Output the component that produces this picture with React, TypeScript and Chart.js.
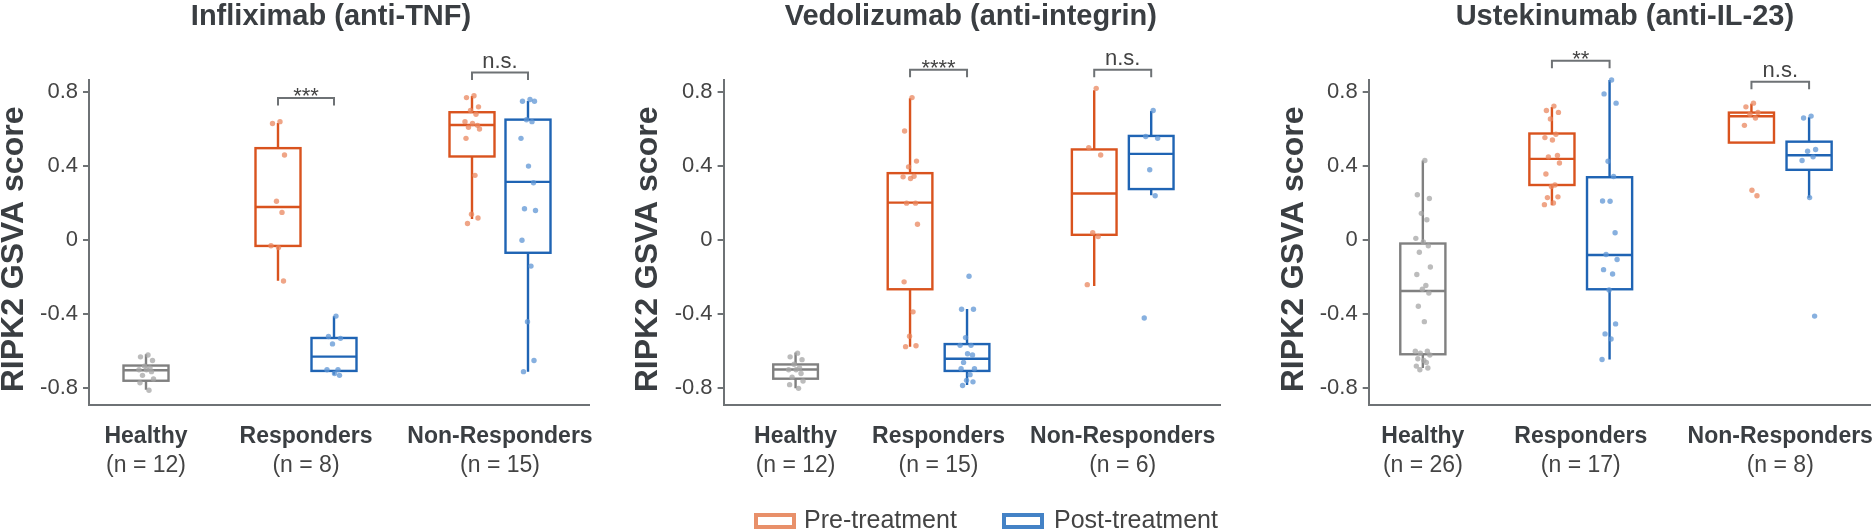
import React, { useEffect, useRef } from "react";
import { Chart, registerables } from "chart.js";

Chart.register(...registerables);

// ---------------- DATA ----------------
const GROUP_NAMES = ["Healthy", "Responders", "Non-Responders"];
const PANEL_TITLES = ["Infliximab (anti-TNF)", "Vedolizumab (anti-integrin)", "Ustekinumab (anti-IL-23)"];
const IFX_N_LABELS = ["(n = 12)", "(n = 8)", "(n = 15)"];
const VDZ_N_LABELS = ["(n = 12)", "(n = 15)", "(n = 6)"];
const UST_N_LABELS = ["(n = 26)", "(n = 17)", "(n = 8)"];
const Y_TICKS = [-0.8, -0.4, 0, 0.4, 0.8];
const Y_AXIS_TITLE = "RIPK2 GSVA score";
const LEGEND_LABELS = ["Pre-treatment", "Post-treatment"];

// box stats: [lower whisker, Q1, median, Q3, upper whisker]
const IFX_BOX_HEALTHY = [-0.808, -0.759, -0.702, -0.677, -0.616];
const IFX_BOX_RESP_PRE = [-0.219, -0.031, 0.179, 0.497, 0.633];
const IFX_BOX_RESP_POST = [-0.726, -0.706, -0.629, -0.528, -0.411];
const IFX_BOX_NR_PRE = [0.115, 0.452, 0.622, 0.691, 0.779];
const IFX_BOX_NR_POST = [-0.711, -0.068, 0.315, 0.651, 0.752];

const IFX_PTS_HEALTHY = [-0.62, -0.63, -0.65, -0.68, -0.69, -0.7, -0.7, -0.71, -0.73, -0.75, -0.77, -0.81];
const IFX_PTS_RESP_PRE = [0.64, 0.63, 0.46, 0.21, 0.15, -0.03, -0.04, -0.22];
const IFX_PTS_RESP_POST = [-0.41, -0.52, -0.53, -0.56, -0.7, -0.7, -0.72, -0.73];
const IFX_PTS_NR_PRE = [0.78, 0.77, 0.72, 0.7, 0.68, 0.64, 0.63, 0.62, 0.61, 0.6, 0.55, 0.35, 0.14, 0.12, 0.09];
const IFX_PTS_NR_POST = [0.76, 0.75, 0.75, 0.65, 0.64, 0.55, 0.4, 0.31, 0.17, 0.16, 0.0, -0.14, -0.44, -0.65, -0.71];

const VDZ_BOX_HEALTHY = [-0.8, -0.748, -0.698, -0.671, -0.607];
const VDZ_BOX_RESP_PRE = [-0.575, -0.265, 0.203, 0.362, 0.766];
const VDZ_BOX_RESP_POST = [-0.782, -0.706, -0.64, -0.561, -0.371];
const VDZ_BOX_NR_PRE = [-0.247, 0.029, 0.252, 0.49, 0.81];
const VDZ_BOX_NR_POST = [0.243, 0.276, 0.466, 0.563, 0.697];

const VDZ_PTS_HEALTHY = [-0.61, -0.63, -0.645, -0.67, -0.69, -0.7, -0.7, -0.72, -0.74, -0.76, -0.78, -0.8];
const VDZ_PTS_RESP_PRE = [0.77, 0.59, 0.427, 0.396, 0.345, 0.342, 0.333, 0.2, 0.2, 0.086, -0.225, -0.387, -0.519, -0.57, -0.575];
const VDZ_PTS_RESP_POST = [-0.195, -0.373, -0.373, -0.526, -0.568, -0.568, -0.613, -0.62, -0.66, -0.694, -0.694, -0.726, -0.757, -0.765, -0.785];
const VDZ_PTS_NR_PRE = [0.82, 0.5, 0.46, 0.04, 0.02, -0.24];
const VDZ_PTS_NR_POST = [0.7, 0.56, 0.55, 0.38, 0.24, -0.42];

const UST_BOX_HEALTHY = [-0.69, -0.616, -0.274, -0.018, 0.43];
const UST_BOX_RESP_PRE = [0.188, 0.298, 0.439, 0.576, 0.719];
const UST_BOX_RESP_POST = [-0.644, -0.265, -0.08, 0.34, 0.865];
const UST_BOX_NR_PRE = [0.527, 0.527, 0.669, 0.689, 0.737];
const UST_BOX_NR_POST = [0.229, 0.38, 0.459, 0.532, 0.664];

const UST_PTS_HEALTHY = [0.43, 0.245, 0.225, 0.145, 0.11, 0.01, -0.01, -0.03, -0.065, -0.145, -0.185, -0.245, -0.265, -0.285, -0.357, -0.44, -0.6, -0.6, -0.61, -0.62, -0.64, -0.65, -0.66, -0.68, -0.69, -0.7];
const UST_PTS_RESP_PRE = [0.724, 0.7, 0.69, 0.655, 0.572, 0.554, 0.541, 0.457, 0.45, 0.417, 0.357, 0.298, 0.29, 0.234, 0.23, 0.201, 0.192];
const UST_PTS_RESP_POST = [0.865, 0.79, 0.74, 0.426, 0.344, 0.212, 0.21, 0.04, -0.077, -0.104, -0.159, -0.183, -0.269, -0.452, -0.506, -0.534, -0.644];
const UST_PTS_NR_PRE = [0.74, 0.72, 0.69, 0.68, 0.66, 0.62, 0.27, 0.24];
const UST_PTS_NR_POST = [0.67, 0.66, 0.49, 0.48, 0.45, 0.43, 0.23, -0.41];

// significance brackets (Responders, Non-Responders)
const IFX_SIG_LABELS = ["***", "n.s."];
const IFX_SIG_Y = [0.768, 0.905];
const VDZ_SIG_LABELS = ["****", "n.s."];
const VDZ_SIG_Y = [0.92, 0.92];
const UST_SIG_LABELS = ["**", "n.s."];
const UST_SIG_Y = [0.969, 0.856];

// ---------------- STYLE / LAYOUT ----------------
const FONT = '"Liberation Sans", Arial, Helvetica, sans-serif';
const W = 1875;
const H = 531;
const Y_MIN = -0.89;
const Y_MAX = 0.865;
const PLOT_TOP = 80;
const PLOT_BOTTOM = 405;
const Y_SCALE_W = 60;
const BOX_HALF = 0.45;
const JITTER = [0.04, -0.11, 0.13, -0.03, 0.08, -0.14, 0.01, 0.11, -0.07, 0.15, -0.12, 0.06, -0.01, 0.12, -0.09, 0.03, -0.15, 0.09, -0.05, 0.14, -0.1, 0.02, 0.07, -0.13, 0.1, -0.06];

const COL_PRE = "#D9531E";
const COL_POST = "#1F64B4";
const COL_HEALTHY = "#808080";
const PT_PRE = "rgba(234,135,95,0.75)";
const PT_POST = "rgba(95,150,212,0.75)";
const PT_HEALTHY = "rgba(165,165,165,0.75)";
const LEGEND_PRE = "#E8906A";
const LEGEND_POST = "#4482C6";
const AXIS_COL = "#6E7275";
const TEXT_DARK = "#3A3E42";
const TEXT_MID = "#444444";

const LAYOUT = [
  { left: 0, width: 625, axisLeft: 89, axisRight: 589, centers: [1.14, 4.34, 8.22], dodge: 0.56, titleX: 4.84 },
  { left: 625, width: 640, axisLeft: 723.6, axisRight: 1220, centers: [1.45, 4.33, 8.04], dodge: 0.574, titleX: 4.98 },
  { left: 1265, width: 610, axisLeft: 1368.7, axisRight: 1870, centers: [1.08, 4.23, 8.21], dodge: 0.575, titleX: 5.11 },
];

type Kind = "healthy" | "pre" | "post";
type GroupSpec = { kind: Kind; group: number; box: number[]; pts: number[] };
type PanelSpec = { title: string; nLabels: string[]; groups: GroupSpec[]; sigLabels: string[]; sigY: number[] };

const mkGroups = (bh: number[], ph: number[], b1: number[], p1: number[], b2: number[], p2: number[], b3: number[], p3: number[], b4: number[], p4: number[]): GroupSpec[] => [
  { kind: "healthy", group: 0, box: bh, pts: ph },
  { kind: "pre", group: 1, box: b1, pts: p1 },
  { kind: "post", group: 1, box: b2, pts: p2 },
  { kind: "pre", group: 2, box: b3, pts: p3 },
  { kind: "post", group: 2, box: b4, pts: p4 },
];

const PANELS: PanelSpec[] = [
  {
    title: PANEL_TITLES[0],
    nLabels: IFX_N_LABELS,
    groups: mkGroups(IFX_BOX_HEALTHY, IFX_PTS_HEALTHY, IFX_BOX_RESP_PRE, IFX_PTS_RESP_PRE, IFX_BOX_RESP_POST, IFX_PTS_RESP_POST, IFX_BOX_NR_PRE, IFX_PTS_NR_PRE, IFX_BOX_NR_POST, IFX_PTS_NR_POST),
    sigLabels: IFX_SIG_LABELS,
    sigY: IFX_SIG_Y,
  },
  {
    title: PANEL_TITLES[1],
    nLabels: VDZ_N_LABELS,
    groups: mkGroups(VDZ_BOX_HEALTHY, VDZ_PTS_HEALTHY, VDZ_BOX_RESP_PRE, VDZ_PTS_RESP_PRE, VDZ_BOX_RESP_POST, VDZ_PTS_RESP_POST, VDZ_BOX_NR_PRE, VDZ_PTS_NR_PRE, VDZ_BOX_NR_POST, VDZ_PTS_NR_POST),
    sigLabels: VDZ_SIG_LABELS,
    sigY: VDZ_SIG_Y,
  },
  {
    title: PANEL_TITLES[2],
    nLabels: UST_N_LABELS,
    groups: mkGroups(UST_BOX_HEALTHY, UST_PTS_HEALTHY, UST_BOX_RESP_PRE, UST_PTS_RESP_PRE, UST_BOX_RESP_POST, UST_PTS_RESP_POST, UST_BOX_NR_PRE, UST_PTS_NR_PRE, UST_BOX_NR_POST, UST_PTS_NR_POST),
    sigLabels: UST_SIG_LABELS,
    sigY: UST_SIG_Y,
  },
];

function groupX(lay: (typeof LAYOUT)[number], g: GroupSpec): number {
  const c = lay.centers[g.group];
  if (g.kind === "pre") return c - lay.dodge;
  if (g.kind === "post") return c + lay.dodge;
  return c;
}

function strokeCol(k: Kind) {
  return k === "pre" ? COL_PRE : k === "post" ? COL_POST : COL_HEALTHY;
}
function pointCol(k: Kind) {
  return k === "pre" ? PT_PRE : k === "post" ? PT_POST : PT_HEALTHY;
}

function makePlugin(panel: PanelSpec, lay: (typeof LAYOUT)[number]) {
  return {
    id: "boxDecor",
    beforeDatasetsDraw(chart: any) {
      const { ctx } = chart;
      const xs = chart.scales.x;
      const ys = chart.scales.y;
      ctx.save();
      panel.groups.forEach((g) => {
        const cxv = groupX(lay, g);
        const cx = xs.getPixelForValue(cxv);
        const x0 = xs.getPixelForValue(cxv - BOX_HALF);
        const x1 = xs.getPixelForValue(cxv + BOX_HALF);
        const [lo, q1, med, q3, hi] = g.box;
        const yLo = ys.getPixelForValue(lo);
        const yQ1 = ys.getPixelForValue(q1);
        const yMed = ys.getPixelForValue(med);
        const yQ3 = ys.getPixelForValue(q3);
        const yHi = ys.getPixelForValue(hi);
        ctx.strokeStyle = strokeCol(g.kind);
        ctx.lineWidth = 2.4;
        ctx.lineCap = "butt";
        ctx.beginPath();
        ctx.moveTo(cx, yQ3);
        ctx.lineTo(cx, yHi);
        ctx.moveTo(cx, yQ1);
        ctx.lineTo(cx, yLo);
        ctx.stroke();
        ctx.fillStyle = "#ffffff";
        ctx.fillRect(x0, yQ3, x1 - x0, yQ1 - yQ3);
        ctx.strokeRect(x0, yQ3, x1 - x0, yQ1 - yQ3);
        ctx.beginPath();
        ctx.moveTo(x0, yMed);
        ctx.lineTo(x1, yMed);
        ctx.stroke();
      });
      ctx.restore();
    },
    afterDraw(chart: any) {
      const { ctx, chartArea } = chart;
      const xs = chart.scales.x;
      const ys = chart.scales.y;
      ctx.save();
      // title
      ctx.fillStyle = TEXT_DARK;
      ctx.font = `bold 29px ${FONT}`;
      ctx.textAlign = "center";
      ctx.textBaseline = "alphabetic";
      ctx.fillText(panel.title, xs.getPixelForValue(lay.titleX), 25);
      // y title
      ctx.save();
      ctx.translate(chartArea.left - 75, ys.getPixelForValue(-0.05));
      ctx.rotate(-Math.PI / 2);
      ctx.font = `bold 32px ${FONT}`;
      ctx.textBaseline = "middle";
      ctx.fillText(Y_AXIS_TITLE, 0, 0);
      ctx.restore();
      // category labels
      GROUP_NAMES.forEach((name, i) => {
        const cx = xs.getPixelForValue(lay.centers[i]);
        ctx.fillStyle = TEXT_DARK;
        ctx.font = `bold 23px ${FONT}`;
        ctx.fillText(name, cx, chartArea.bottom + 38);
        ctx.fillStyle = TEXT_MID;
        ctx.font = `23px ${FONT}`;
        ctx.fillText(panel.nLabels[i], cx, chartArea.bottom + 67);
      });
      // significance brackets
      panel.sigLabels.forEach((lab, i) => {
        const c = lay.centers[i + 1];
        const xa = xs.getPixelForValue(c - lay.dodge);
        const xb = xs.getPixelForValue(c + lay.dodge);
        const y = ys.getPixelForValue(panel.sigY[i]);
        ctx.strokeStyle = AXIS_COL;
        ctx.lineWidth = 2;
        ctx.beginPath();
        ctx.moveTo(xa, y + 7.5);
        ctx.lineTo(xa, y);
        ctx.lineTo(xb, y);
        ctx.lineTo(xb, y + 7.5);
        ctx.stroke();
        ctx.fillStyle = TEXT_MID;
        ctx.font = `22px ${FONT}`;
        const isStar = lab.indexOf("*") >= 0;
        ctx.fillText(lab, (xa + xb) / 2, isStar ? y + 5.5 : y - 4.5);
      });
      ctx.restore();
    },
  };
}

function buildConfig(panel: PanelSpec, lay: (typeof LAYOUT)[number]): any {
  const datasets = panel.groups.map((g) => {
    const cx = groupX(lay, g);
    return {
      type: "scatter",
      data: g.pts.map((v, i) => ({ x: cx + JITTER[i % JITTER.length], y: v })),
      pointRadius: 2.7,
      pointHoverRadius: 2.7,
      pointBackgroundColor: pointCol(g.kind),
      pointBorderWidth: 0,
      clip: false,
    };
  });
  return {
    type: "scatter",
    data: { datasets },
    options: {
      animation: false,
      responsive: false,
      maintainAspectRatio: false,
      events: [],
      layout: {
        padding: {
          left: lay.axisLeft - lay.left - Y_SCALE_W,
          right: lay.left + lay.width - lay.axisRight,
          top: PLOT_TOP,
          bottom: 0,
        },
      },
      plugins: { legend: { display: false }, tooltip: { enabled: false }, title: { display: false } },
      scales: {
        x: {
          type: "linear",
          min: 0,
          max: 10,
          grid: { display: false, drawTicks: false },
          ticks: { display: false },
          border: { display: true, color: AXIS_COL, width: 2 },
          afterFit: (s: any) => {
            s.height = H - PLOT_BOTTOM;
          },
        },
        y: {
          type: "linear",
          min: Y_MIN,
          max: Y_MAX,
          afterBuildTicks: (s: any) => {
            s.ticks = Y_TICKS.map((value) => ({ value }));
          },
          ticks: {
            font: { size: 22, family: FONT },
            color: TEXT_MID,
            padding: 5,
            callback: (v: any) => (Number(v) === 0 ? "0" : Number(v).toFixed(1)),
          },
          grid: { drawOnChartArea: false, drawTicks: true, tickLength: 6, color: AXIS_COL, lineWidth: 2 },
          border: { display: true, color: AXIS_COL, width: 2 },
          afterFit: (s: any) => {
            s.width = Y_SCALE_W;
          },
        },
      },
    },
    plugins: [makePlugin(panel, lay)],
  };
}

function Panel({ idx }: { idx: number }) {
  const ref = useRef<HTMLCanvasElement>(null);
  const lay = LAYOUT[idx];
  useEffect(() => {
    const chart = new Chart(ref.current as HTMLCanvasElement, buildConfig(PANELS[idx], lay));
    return () => chart.destroy();
  }, [idx]);
  return (
    <canvas
      ref={ref}
      width={lay.width}
      height={H}
      style={{ position: "absolute", left: lay.left, top: 0, width: lay.width, height: H }}
    />
  );
}

export default function App() {
  const legendText: React.CSSProperties = {
    position: "absolute",
    top: 507,
    font: `25px ${FONT}`,
    lineHeight: "25px",
    color: TEXT_MID,
    whiteSpace: "nowrap",
  };
  const legendBox: React.CSSProperties = {
    position: "absolute",
    top: 513,
    width: 42,
    height: 16,
    boxSizing: "border-box",
    background: "#fff",
  };
  return (
    <div style={{ position: "absolute", left: 0, top: 0, width: W, height: H, background: "#fff", overflow: "hidden" }}>
      {PANELS.map((_, i) => (
        <Panel key={i} idx={i} />
      ))}
      <div style={{ ...legendBox, left: 754, border: `4px solid ${LEGEND_PRE}` }} />
      <div style={{ ...legendText, left: 804 }}>{LEGEND_LABELS[0]}</div>
      <div style={{ ...legendBox, left: 1002, border: `4px solid ${LEGEND_POST}` }} />
      <div style={{ ...legendText, left: 1054 }}>{LEGEND_LABELS[1]}</div>
    </div>
  );
}
